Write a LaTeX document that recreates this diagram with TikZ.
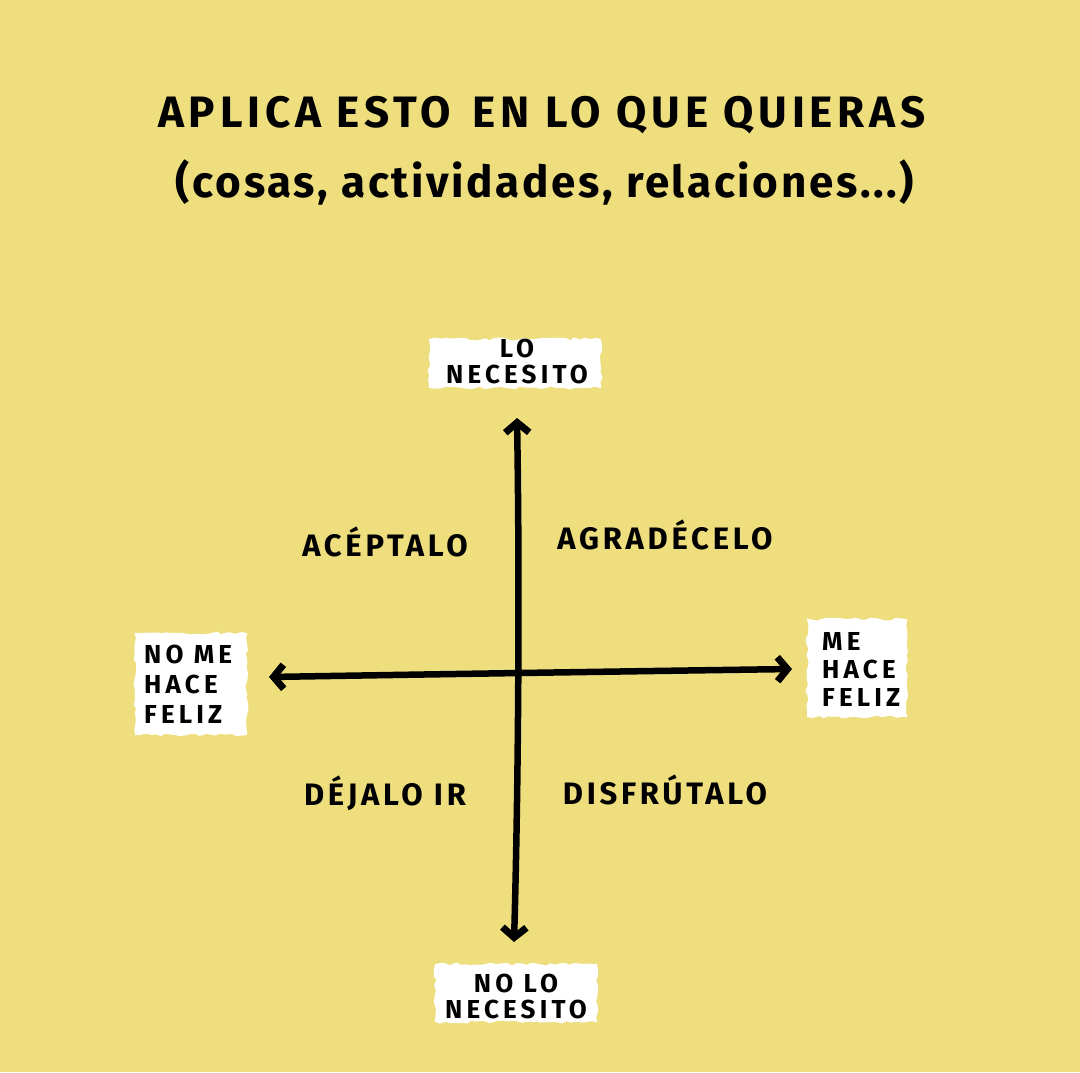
\documentclass[tikz,border=0pt]{standalone}
\usepackage{fontspec}
\setmainfont{Fira Sans}
\usetikzlibrary{arrows.meta,decorations.pathmorphing}
\definecolor{bgyellow}{RGB}{238,222,126}
\tikzset{
  hand/.style 2 args={font=\fontsize{#1}{#1}\selectfont\bfseries\addfontfeature{LetterSpace=#2}, text=black, inner sep=0pt},
  patch/.style={fill=white, draw=white, line width=2pt, decorate,
    decoration={random steps, segment length=5pt, amplitude=1.5pt}},
  axis/.style={line width=6.5pt, line cap=round, black,
    {Straight Barb[length=10pt,width=24pt,line width=7pt]}-{Straight Barb[length=10pt,width=24pt,line width=7pt]}},
  quad/.style={hand={31}{12}, anchor=center},
  lab/.style={hand={26}{16}}
}
\begin{document}
\begin{tikzpicture}[x=1pt,y=-1pt]
\useasboundingbox[fill=bgyellow] (0,0) rectangle (1080,1072);

% title
\node[hand={44}{11}] (t1) at (542,115) {APLICA ESTO\enspace EN LO QUE QUIERAS};
\node[hand={44}{6}] (t2) at (545,182) {(cosas, actividades, relaciones...)};

% white patches
\fill[patch] (430,340) rectangle (600,387);
\fill[patch] (136,634) rectangle (246,734);
\fill[patch] (808,620) rectangle (906,716);
\fill[patch] (436,965) rectangle (596,1021);

% axis labels
\node[lab, align=center] (top) at (517,361) {LO\\[0pt]NECESITO};
\node[lab, align=left, anchor=west] (left) at (144,684) {NO ME\\[4pt]HACE\\[4pt]FELIZ};
\node[lab, align=left, anchor=west] (right) at (822,669) {ME\\[2pt]HACE\\[2pt]FELIZ};
\node[lab, align=center] (bot) at (516,996) {NO LO\\[0pt]NECESITO};

% axes
\coordinate (vtop) at (517,418);
\coordinate (vbot) at (514,942);
\coordinate (hleft) at (269,677);
\coordinate (hright) at (792,669);
\draw[axis] (vtop) .. controls (520,600) and (518,800) .. (vbot);
\draw[axis] (hleft) .. controls (450,674) and (650,671) .. (hright);

% quadrant labels
\node[quad] (q1) at (385,542) {ACÉPTALO};
\node[quad] (q2) at (665,535) {AGRADÉCELO};
\node[quad] (q3) at (385,793) {DÉJALO IR};
\node[quad] (q4) at (665,790) {DISFRÚTALO};
\end{tikzpicture}
\end{document}
